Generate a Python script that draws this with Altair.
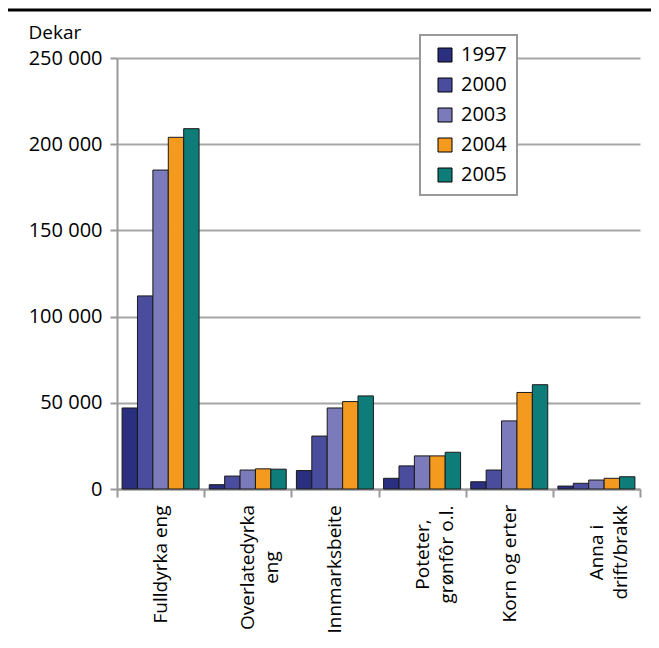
import json
import altair as alt
import pandas as pd

categories = ["Fulldyrka eng", "Overlatedyrka eng", "Innmarksbeite",
              "Poteter, grønfôr o.l.", "Korn og erter", "Anna i drift/brakk"]
# tick label lines
label_lines = [
    ["Fulldyrka eng"],
    ["Overlatedyrka", "eng"],
    ["Innmarksbeite"],
    ["Poteter,", "grønfôr o.l."],
    ["Korn og erter"],
    ["Anna i", "drift/brakk"],
]
# half the length (px) of the longest line of each label, so that the centred
# label block starts just below the tick
label_half = [59, 62, 64, 49, 58, 47]
years = ["1997", "2000", "2003", "2004", "2005"]
values = {
    "1997": [47000, 2500, 10700, 6200, 4200, 1700],
    "2000": [112000, 7500, 30700, 13400, 11000, 3300],
    "2003": [185000, 11000, 47000, 19200, 39500, 5200],
    "2004": [204000, 11700, 50700, 19200, 56000, 6200],
    "2005": [209000, 11500, 54000, 21300, 60500, 7100],
}
colors = ["#2B2F7F", "#4A4D9E", "#7B7BBB", "#F39A1F", "#0E7C78"]
y_ticks = [0, 50000, 100000, 150000, 200000, 250000]

rows = []
for y in years:
    for c, v in zip(categories, values[y]):
        rows.append({"cat": c, "year": y, "value": v})
df = pd.DataFrame(rows)

label_expr = "{}[indexof({}, datum.label)]".format(
    json.dumps(label_lines, ensure_ascii=False),
    json.dumps(categories, ensure_ascii=False))

pad_cond = {
    "condition": [
        {"test": "datum.value == " + json.dumps(c, ensure_ascii=False), "value": 8 + h}
        for c, h in zip(categories, label_half)
    ],
    "value": 60,
}

FONT = "Open Sans"
W, H = 523, 431

bars = alt.Chart(df).mark_bar(stroke="#1a1a1a", strokeWidth=1).encode(
    x=alt.X("cat:N", sort=categories,
            scale=alt.Scale(paddingInner=0, paddingOuter=0),
            axis=alt.Axis(title=None, labelAngle=-90, labelAlign="center",
                          labelBaseline="middle", tickBand="extent",
                          labelExpr=label_expr,
                          labelFontSize=19, labelLineHeight=24, labelColor="#000",
                          labelPadding=pad_cond, tickSize=8, tickWidth=2,
                          tickColor="#999", domainColor="#999", domainWidth=2,
                          grid=False, labelFont=FONT, labelLimit=300)),
    xOffset=alt.XOffset("year:N", sort=years,
                        scale=alt.Scale(paddingOuter=0.33, paddingInner=0)),
    y=alt.Y("value:Q", scale=alt.Scale(domain=[0, 250000]),
            axis=alt.Axis(values=y_ticks, title="Dekar", titleAngle=0,
                          titleX=-89, titleY=-20, titleAlign="left",
                          titleBaseline="alphabetic",
                          titleFontWeight="normal", titleFontSize=19,
                          titleFont=FONT, titleColor="#000",
                          labelExpr="replace(format(datum.value, ','), ',', ' ')",
                          labelFontSize=20, labelFont=FONT, labelColor="#000",
                          labelPadding=8, tickSize=7, tickWidth=2,
                          tickColor="#999", domainColor="#999", domainWidth=2,
                          gridColor="#a6a6a6", gridWidth=2)),
    color=alt.Color("year:N", sort=years,
                    scale=alt.Scale(domain=years, range=colors),
                    legend=alt.Legend(title=None, orient="none", legendX=303,
                                      legendY=-23, fillColor="white",
                                      strokeColor="#999",
                                      padding=10, symbolType="square",
                                      symbolSize=196, symbolStrokeColor="#000",
                                      symbolStrokeWidth=1, labelFontSize=20,
                                      labelFont=FONT, labelColor="#000",
                                      rowPadding=10, labelOffset=6,
                                      symbolOffset=5)),
)

top_rule = alt.Chart(alt.Data(values=[{}])).mark_rule(
    color="black", strokeWidth=3
).encode(x=alt.value(-109), x2=alt.value(W + 11), y=alt.value(-48))

chart = alt.layer(top_rule, bars).properties(
    width=W, height=H,
    autosize=alt.AutoSizeParams(type="none"),
    padding={"left": 109, "top": 50, "right": 11, "bottom": 148},
).configure_view(stroke=None).configure_legend(strokeWidth=2)

chart.save("out.html", embed_options={"renderer": "svg", "actions": False})
